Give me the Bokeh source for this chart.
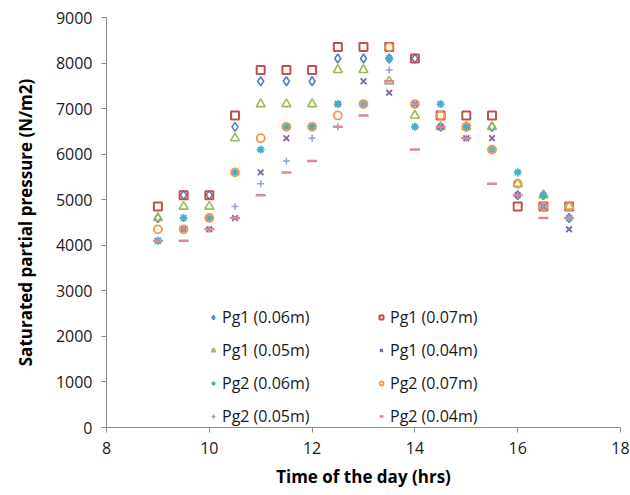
from bokeh.plotting import figure
from bokeh.models import Legend, LegendItem, Range1d, FixedTicker
from bokeh.embed import file_html
from bokeh.resources import INLINE

hours = [9, 9.5, 10, 10.5, 11, 11.5, 12, 12.5, 13, 13.5, 14, 14.5, 15, 15.5, 16, 16.5, 17]

pg1_006 = [4600, 5100, 5100, 6600, 7600, 7600, 7600, 8100, 8100, 8100, 8100, 6600, 6600, 6600, 5100, 5100, 4600]
pg1_007 = [4850, 5100, 5100, 6850, 7850, 7850, 7850, 8350, 8350, 8350, 8100, 6850, 6850, 6850, 4850, 4850, 4850]
pg1_005 = [4600, 4850, 4850, 6350, 7100, 7100, 7100, 7850, 7850, 7600, 6850, 6600, 6600, 6600, 5350, 5100, 4850]
pg1_004 = [4100, 4350, 4350, 4600, 5600, 6350, 6600, 7100, 7600, 7350, 7100, 6600, 6350, 6350, 5100, 4850, 4350]
pg2_006 = [4100, 4600, 4600, 5600, 6100, 6600, 6600, 7100, 7100, 8100, 6600, 7100, 6600, 6100, 5600, 5100, 4600]
pg2_007 = [4350, 4350, 4600, 5600, 6350, 6600, 6600, 6850, 7100, 8350, 7100, 6850, 6600, 6100, 5350, 4850, 4850]
pg2_005 = [4100, 4350, 4350, 4850, 5350, 5850, 6350, 6600, 7100, 7850, 7100, 6600, 6350, 6100, 5100, 4850, 4600]
pg2_004 = [4100, 4100, 4350, 4600, 5100, 5600, 5850, 6600, 6850, 7600, 6100, 6600, 6350, 5350, 5100, 4600, 4600]

x_ticks = [8, 10, 12, 14, 16, 18]
y_ticks = [0, 1000, 2000, 3000, 4000, 5000, 6000, 7000, 8000, 9000]

FONT = "Open Sans"

p = figure(width=630, height=495, output_backend="svg", toolbar_location=None,
           x_range=Range1d(8, 18), y_range=Range1d(0, 9000),
           min_border_left=106, min_border_right=10, min_border_top=17, min_border_bottom=68)
p.outline_line_color = None
p.xgrid.grid_line_color = None
p.ygrid.grid_line_color = None
p.background_fill_color = "white"
p.border_fill_color = "white"

for ax in (p.xaxis[0], p.yaxis[0]):
    ax.axis_line_color = "#8c8c8c"
    ax.major_tick_line_color = "#8c8c8c"
    ax.minor_tick_line_color = None
    ax.major_tick_in = 0
    ax.major_tick_out = 5
    ax.major_label_text_font = FONT
    ax.major_label_text_font_size = "16px"
    ax.major_label_text_color = "#1a1a1a"
    ax.axis_label_text_font = FONT
    ax.axis_label_text_font_style = "bold"
    ax.axis_label_text_color = "#000000"

p.xaxis[0].ticker = FixedTicker(ticks=x_ticks)
p.yaxis[0].ticker = FixedTicker(ticks=y_ticks)
p.xaxis[0].major_label_standoff = 9
p.yaxis[0].major_label_standoff = 9
p.xaxis[0].axis_label = "Time of the day (hrs)"
p.yaxis[0].axis_label = "Saturated partial pressure (N/m2)"
p.xaxis[0].axis_label_text_font_size = "17px"
p.yaxis[0].axis_label_text_font_size = "17px"
p.xaxis[0].axis_label_standoff = 8
p.yaxis[0].axis_label_standoff = 16

series = [
    ("Pg1 (0.06m)", pg1_006, "diamond", "#4F81BD", 9, 1.6),
    ("Pg1 (0.07m)", pg1_007, "square", "#C0504D", 8, 2),
    ("Pg1 (0.05m)", pg1_005, "triangle", "#9BBB59", 9, 1.6),
    ("Pg1 (0.04m)", pg1_004, "x", "#8064A2", 8, 1.8),
    ("Pg2 (0.06m)", pg2_006, "asterisk", "#4BACC6", 8, 1.8),
    ("Pg2 (0.07m)", pg2_007, "circle", "#F79646", 8, 1.8),
    ("Pg2 (0.05m)", pg2_005, "cross", "#8EA6CF", 7, 1.5),
    ("Pg2 (0.04m)", pg2_004, "dash", "#D98A94", 10, 2.5),
]

renderers = []
for label, ys, marker, color, size, lw in series:
    r = p.scatter(hours, ys, marker=marker, size=size, line_color=color,
                  line_width=lw, fill_color=None)
    renderers.append((label, r))

def make_legend(entries, loc):
    leg = Legend(items=[LegendItem(label=l, renderers=[r]) for l, r in entries],
                 location=loc, orientation="vertical")
    leg.border_line_color = None
    leg.background_fill_alpha = 0
    leg.padding = 0
    leg.margin = 0
    leg.spacing = 11
    leg.glyph_width = 10
    leg.glyph_height = 20
    leg.label_height = 20
    leg.label_standoff = 4
    leg.label_text_font = FONT
    leg.label_text_font_size = "16px"
    leg.label_text_color = "#1a1a1a"
    return leg

left_entries = [renderers[0], renderers[2], renderers[4], renderers[6]]
right_entries = [renderers[1], renderers[3], renderers[5], renderers[7]]
p.add_layout(make_legend(left_entries, (102, 0)), "center")
p.add_layout(make_legend(right_entries, (270, 0)), "center")

open("out.html", "w").write(file_html(p, INLINE))
